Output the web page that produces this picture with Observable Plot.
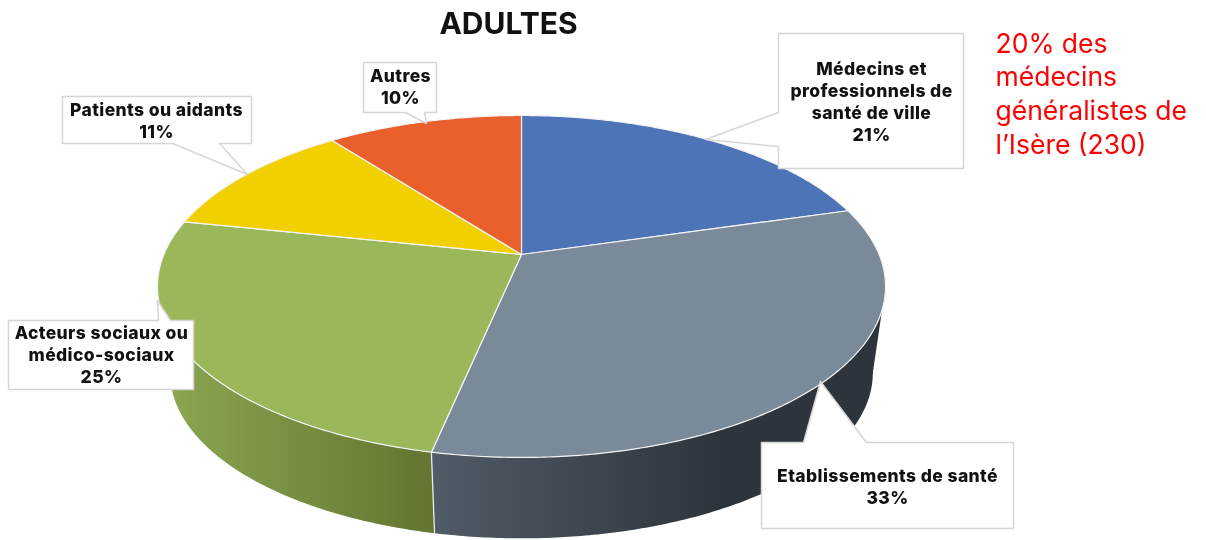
<!DOCTYPE html>
<html lang="fr">
<head>
<meta charset="utf-8">
<script src="https://cdn.jsdelivr.net/npm/d3@7"></script>
<script src="https://cdn.jsdelivr.net/npm/@observablehq/plot@0.6"></script>
<style>
html,body{margin:0;padding:0;background:#fff;}
svg{display:block;filter:blur(0.35px);}
</style>
</head>
<body>
<div id="chart"></div>
<script>
// Data
const categories = ["Médecins et\nprofessionnels de\nsanté de ville","Etablissements de santé","Acteurs sociaux ou\nmédico-sociaux","Patients ou aidants","Autres"];
const percents = [21,33,25,11,10];
// slice sweep as measured on the picture (unrounded shares behind the rounded labels)
const shares = [20.5,32.8,25.0,11.3,10.4];
const colors = ["#4e74b8","#7a8a99","#9ab85a","#f2d000","#e9602d"];
const titleText = "ADULTES";
const noteText = "20% des\nmédecins\ngénéralistes de\nl’Isère (230)";

// Layout: perspective disc and callouts
const disc = {cx:521, cy:254, a:357.6, b:165, k:0.187, depth:88, shrink:0.965};
const boxes = [
  {x1:778,y1:33,x2:963,y2:168,side:"left",base:[112,146],tip:[705,139],tx:871,ty:100},
  {x1:761,y1:442,x2:1013,y2:528,side:"top",base:[803,866],tip:[820,381],tx:887,ty:485},
  {x1:8,y1:320,x2:193,y2:389,side:"top",base:[158,170],tip:[157,300],tx:101,ty:353},
  {x1:62,y1:96,x2:251,y2:143,side:"bottom",base:[172,219],tip:[247,174],tx:156,ty:119},
  {x1:363,y1:62,x2:436,y2:112,side:"bottom",base:[405,424],tip:[426,123],tx:400,ty:85}
];

const point = (t, s = 1, d = 0) => {
  const w = 1 + disc.k * Math.cos(t);
  return [disc.cx + s * disc.a * Math.sin(t) / w, disc.cy + d - s * disc.b * Math.cos(t) / w];
};
const arc = (t0, t1, s, d) => {
  const n = Math.max(2, Math.ceil(Math.abs(t1 - t0) / 0.01));
  return d3.range(n + 1).map(i => point(t0 + (t1 - t0) * i / n, s, d));
};
const poly = (coords, props = {}) => ({type:"Feature", properties:props, geometry:{type:"Polygon", coordinates:[[...coords, coords[0]]]}});

const total = d3.sum(shares);
const ends = d3.cumsum(shares).map(v => v / total * 2 * Math.PI);
const starts = ends.map((_, i) => i ? ends[i - 1] : 0);

const faces = categories.map((name, i) =>
  poly([[disc.cx, disc.cy], ...arc(starts[i], ends[i], 1, 0)], {name}));
// side wall, plus a quad at the disc's widest point that joins the two rims
const widest = Math.acos(-disc.k);
const rimQuad = (t0, t1) => poly([point(t0), point(t0, disc.shrink, disc.depth), point(t1, disc.shrink, disc.depth), point(t1)]);
const wall = (i, t0, t1) => [
  poly([...arc(starts[i], ends[i], 1, 0), ...arc(ends[i], starts[i], disc.shrink, disc.depth)]),
  rimQuad(t0, t1)
];
const seam = [{type:"LineString", coordinates:[point(ends[1]), point(ends[1], disc.shrink, disc.depth)]}];

const callouts = boxes.map(b => {
  const {x1,y1,x2,y2,side,base,tip} = b;
  let c;
  if (side === "left") c = [[x1,y1],[x2,y1],[x2,y2],[x1,y2],[x1,base[1]],tip,[x1,base[0]]];
  else if (side === "top") c = [[x1,y1],[base[0],y1],tip,[base[1],y1],[x2,y1],[x2,y2],[x1,y2]];
  else c = [[x1,y1],[x2,y1],[x2,y2],[base[1],y2],tip,[base[0],y2],[x1,y2]];
  return poly(c);
});
const labels = boxes.map((b, i) => ({x:b.tx, y:b.ty, text:`${categories[i]}\n${percents[i]}%`}));
const font = "Inter, sans-serif";

const plot = Plot.plot({
  width:1206, height:540, margin:0,
  projection:{type:"identity"},
  color:{domain:categories, range:colors},
  marks:[
    Plot.geo(wall(1, widest, widest + 0.5), {fill:"url(#wallGrey)"}),
    Plot.geo(wall(2, 2 * Math.PI - widest, 2 * Math.PI - widest - 0.5), {fill:"url(#wallGreen)"}),
    Plot.geo(seam, {stroke:"#e8ecef", strokeWidth:1.3}),
    Plot.geo(faces, {fill:d => d.properties.name, stroke:"#f4f4f4", strokeWidth:1.2}),
    Plot.geo(callouts, {fill:"white", stroke:"#d6d6d6", strokeWidth:1.5}),
    Plot.text(labels, {x:"x", y:"y", text:"text", fontFamily:font, fontWeight:800, fontSize:17.5, lineHeight:1.257, fill:"#111"}),
    Plot.text([titleText], {x:()=>508, y:()=>24, text:d=>d, fontFamily:font, fontWeight:700, fontSize:30, fill:"#111"}),
    Plot.text([noteText], {x:()=>995, y:()=>92, text:d=>d, fontFamily:font, fontWeight:400, fontSize:26.5, lineHeight:1.265, textAnchor:"start", fill:"#ff0000"})
  ]
});

const defs = d3.select(plot).insert("defs", ":first-child");
const gradient = (id, x1, x2, from, to) => {
  const g = defs.append("linearGradient").attr("id", id).attr("gradientUnits","userSpaceOnUse")
    .attr("x1",x1).attr("x2",x2).attr("y1",0).attr("y2",0);
  g.append("stop").attr("offset",0).attr("stop-color",from);
  g.append("stop").attr("offset",1).attr("stop-color",to);
};
gradient("wallGrey", 432, 720, "#505c68", "#2e343b");
gradient("wallGreen", 170, 432, "#8aa650", "#637531");
// the reference's typeface runs a little wider than Inter
d3.select(plot).selectAll("text").filter(function() { return +this.parentNode.getAttribute("font-size") < 20 || /17\.5/.test(this.parentNode.getAttribute("font-size")); }).style("letter-spacing", "0.4px");
document.getElementById("chart").append(plot);
</script>
</body>
</html>
